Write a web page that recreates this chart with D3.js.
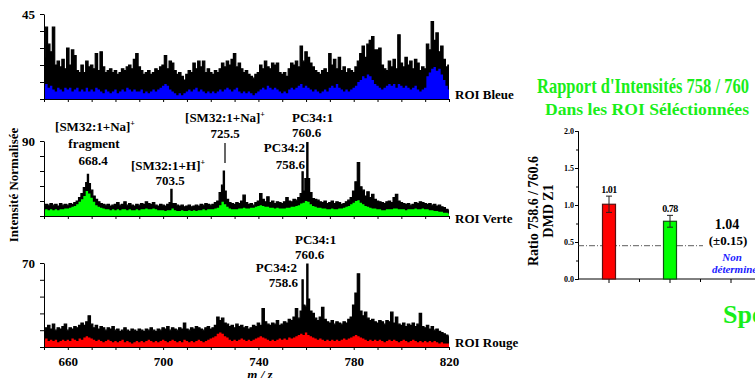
<!DOCTYPE html>
<html>
<head>
<meta charset="utf-8">
<script src="https://cdn.jsdelivr.net/npm/d3@7"></script>
<style>
  body { margin: 0; background: #fff; }
  svg text { font-family: "Liberation Serif", "Times New Roman", serif; font-weight: bold; }
</style>
</head>
<body>
<svg id="chart" width="755" height="378"></svg>
<script>
// spectra: one value per m/z unit from 650 to 820
const mzStart = 650;
const mzTicks = [660, 700, 740, 780, 820];

const blueTop = [
  22, 38, 29, 25, 38, 18, 20, 17, 21, 16,
  27, 18, 26, 23, 15, 14, 18, 14, 20, 17,
  18, 16, 24, 15, 25, 17, 14, 15, 16, 14,
  15, 13, 14, 16, 15, 17, 18, 16, 21, 24,
  17, 15, 13, 14, 15, 13, 14, 16, 15, 17,
  18, 23, 16, 20, 19, 15, 13, 14, 12, 10,
  13, 15, 14, 19, 16, 20, 17, 20, 14, 16,
  14, 13, 15, 14, 16, 19, 17, 20, 18, 21,
  24, 17, 19, 16, 14, 15, 13, 12, 11, 13,
  14, 18, 16, 20, 17, 16, 19, 18, 19, 14,
  13, 14, 12, 16, 19, 18, 20, 17, 28, 20,
  25, 22, 19, 17, 15, 14, 13, 15, 16, 14,
  24, 18, 21, 16, 22, 15, 17, 14, 16, 15,
  14, 17, 20, 24, 28, 22, 29, 31, 33, 26,
  26, 27, 18, 16, 15, 20, 17, 21, 16, 34,
  19, 17, 22, 18, 20, 16, 21, 19, 15, 17,
  16, 29, 26, 41, 31, 35, 25, 28, 21, 17, 18
];
const blueFill = [
  7, 8, 6, 7, 5, 4, 6, 5, 4, 6,
  5, 6, 4, 5, 6, 4, 5, 4, 6, 4,
  5, 4, 6, 5, 4, 3, 5, 4, 3, 4,
  5, 3, 4, 5, 4, 6, 5, 4, 5, 4,
  4, 5, 3, 4, 3, 4, 5, 4, 5, 6,
  7, 8, 7, 5, 4, 3, 2, 3, 2, 3,
  4, 5, 4, 5, 6, 4, 5, 4, 3, 4,
  3, 4, 3, 4, 5, 4, 5, 6, 5, 4,
  5, 6, 4, 3, 4, 3, 4, 3, 2, 3,
  4, 5, 6, 5, 7, 6, 5, 6, 5, 4,
  3, 4, 3, 5, 6, 5, 6, 7, 8, 6,
  7, 6, 5, 4, 5, 4, 3, 4, 5, 4,
  6, 7, 6, 8, 6, 5, 4, 5, 4, 5,
  6, 7, 9, 10, 12, 11, 13, 12, 10, 8,
  7, 6, 5, 6, 7, 8, 7, 8, 6, 8,
  7, 6, 7, 6, 5, 6, 7, 5, 4, 5,
  6, 12, 14, 16, 17, 15, 16, 13, 10, 7, 5
];

const greenTop = [
  12, 14, 13, 15, 13, 14, 12, 15, 13, 14,
  13, 15, 14, 16, 18, 22, 27, 34, 40, 39,
  31, 24, 20, 17, 15, 14, 13, 14, 12, 13,
  14, 16, 13, 14, 17, 13, 15, 13, 12, 14,
  13, 15, 14, 17, 15, 14, 16, 13, 12, 14,
  13, 12, 14, 16, 15, 15, 13, 12, 13, 11,
  12, 13, 11, 12, 13, 12, 14, 13, 15, 14,
  13, 14, 16, 18, 28, 37, 30, 20, 16, 15,
  14, 16, 15, 18, 25, 16, 14, 15, 13, 16,
  18, 27, 20, 17, 23, 16, 18, 15, 17, 16,
  15, 17, 22, 18, 17, 20, 19, 22, 27, 30,
  45, 45, 28, 21, 20, 19, 17, 16, 18, 15,
  16, 18, 15, 17, 16, 14, 15, 17, 19, 22,
  30, 41, 64, 35, 31, 24, 29, 22, 26, 20,
  18, 17, 16, 15, 17, 18, 16, 22, 26, 18,
  16, 15, 14, 15, 13, 14, 16, 15, 17, 16,
  15, 14, 15, 13, 14, 12, 13, 11, 10, 8, 7
];
const greenFill = [
  7, 8, 7, 8, 7, 8, 7, 8, 8, 9,
  9, 10, 11, 12, 14, 17, 20, 24, 30, 27,
  22, 17, 13, 11, 10, 9, 8, 8, 7, 8,
  7, 8, 7, 8, 8, 7, 8, 7, 7, 8,
  7, 8, 8, 9, 8, 8, 9, 8, 7, 7,
  7, 6, 7, 7, 9, 7, 6, 6, 7, 6,
  6, 7, 6, 7, 6, 7, 7, 8, 7, 8,
  8, 8, 9, 10, 13, 17, 14, 11, 9, 8,
  8, 8, 9, 9, 10, 9, 9, 10, 10, 11,
  12, 13, 12, 11, 11, 10, 10, 9, 10, 9,
  9, 9, 10, 10, 11, 11, 12, 13, 15, 16,
  18, 17, 14, 12, 11, 10, 10, 9, 9, 8,
  8, 9, 8, 8, 9, 9, 10, 11, 12, 14,
  16, 18, 19, 16, 14, 12, 11, 10, 9, 9,
  8, 8, 7, 7, 8, 8, 8, 9, 9, 8,
  8, 8, 7, 8, 8, 8, 9, 8, 8, 9,
  8, 8, 7, 7, 6, 6, 5, 5, 4, 4, 3
];
const greenPeaks = [[668.4, 50], [703.5, 32], [725.5, 54], [758.6, 53], [760.6, 88]];

const redTop = [
  14, 16, 18, 15, 19, 14, 16, 15, 17, 19,
  14, 16, 15, 17, 16, 18, 20, 18, 21, 26,
  19, 16, 18, 15, 17, 16, 14, 16, 15, 17,
  14, 15, 13, 14, 16, 14, 13, 15, 14, 13,
  15, 14, 13, 15, 14, 16, 14, 13, 15, 14,
  16, 15, 17, 14, 16, 15, 14, 16, 15, 20,
  15, 14, 16, 15, 17, 16, 15, 14, 16, 17,
  15, 16, 18, 25, 22, 24, 20, 19, 17, 18,
  16, 19, 17, 18, 16, 17, 15, 16, 18, 17,
  20, 18, 32, 21, 19, 18, 20, 19, 22, 18,
  19, 21, 20, 23, 22, 25, 32, 24, 30, 35,
  34, 40, 30, 28, 24, 22, 25, 33, 23, 21,
  20, 22, 19, 21, 20, 19, 21, 20, 23, 25,
  35, 45, 61, 30, 26, 29, 24, 22, 23, 21,
  20, 22, 21, 19, 22, 21, 29, 20, 25, 19,
  18, 20, 17, 19, 18, 20, 17, 19, 28, 17,
  16, 18, 15, 17, 14, 15, 13, 12, 11, 10, 9
];
const redFill = [
  6, 7, 5, 6, 5, 6, 4, 5, 6, 5,
  6, 5, 7, 6, 5, 7, 6, 8, 9, 8,
  7, 6, 5, 6, 5, 4, 5, 6, 5, 4,
  5, 4, 5, 6, 4, 5, 4, 3, 4, 5,
  4, 5, 4, 5, 6, 5, 4, 5, 4, 5,
  6, 5, 4, 5, 6, 5, 4, 5, 4, 6,
  5, 4, 5, 4, 5, 6, 5, 4, 5, 6,
  7, 8, 9, 11, 12, 11, 9, 8, 6, 5,
  6, 5, 6, 7, 6, 5, 6, 5, 6, 7,
  8, 9, 8, 7, 6, 5, 6, 5, 6, 7,
  6, 7, 6, 8, 7, 8, 9, 10, 11, 10,
  12, 10, 9, 8, 7, 6, 7, 6, 5, 6,
  5, 6, 5, 6, 5, 6, 7, 6, 7, 8,
  9, 10, 9, 8, 7, 6, 5, 6, 5, 6,
  5, 6, 5, 4, 5, 6, 5, 6, 5, 4,
  5, 6, 5, 4, 5, 6, 5, 4, 5, 4,
  5, 4, 5, 4, 5, 4, 3, 4, 3, 3, 3
];
const redPeaks = [[758.6, 56], [760.6, 69]];

// ratio bar chart
const ratioCats = ["ROI Rouge", "ROI Verte", "ROI Bleue"];
const ratioVals = [1.01, 0.78];
const ratioErr = [0.11, 0.08];
const ratioColors = ["#ff0000", "#00ff00"];
const ratioBorders = ["#5a1010", "#145014"];
const ratioTicks = [0, 0.5, 1.0, 1.5, 2.0];
const ratioRef = 0.45;

const svg = d3.select("#chart");
const x = d3.scaleLinear().domain([650, 820]).range([44, 449]);

function toSeries(arr, peaks) {
  let pts = arr.map((v, i) => [mzStart + i, v]);
  if (peaks) pts = pts.concat(peaks).sort((a, b) => a[0] - b[0]);
  return pts;
}

let panels = [
  { top: blueTop, fill: blueFill, peaks: null, max: 45, y0: 99, y1: 14, color: "#0000ff", name: "ROI Bleue", ny: 99 },
  { top: greenTop, fill: greenFill, peaks: greenPeaks, max: 90, y0: 216, y1: 141, color: "#00ff00", name: "ROI Verte", ny: 223 },
  { top: redTop, fill: redFill, peaks: redPeaks, max: 70, y0: 347, y1: 263, color: "#ff0000", name: "ROI Rouge", ny: 347 }
];

panels.forEach(function(p, k) {
  let y = d3.scaleLinear().domain([0, p.max]).range([p.y0, p.y1]);
  let g = svg.append("g");

  let area = d3.area().curve(d3.curveStep).x(d => x(d[0])).y0(y(0)).y1(d => y(d[1]));
  let line = d3.line().curve(d3.curveStep).x(d => x(d[0])).y(d => y(d[1]));
  let topData = toSeries(p.top, p.peaks);

  g.append("path").datum(topData).attr("d", area).attr("fill", "#000");
  g.append("path").datum(topData).attr("d", line)
    .attr("fill", "none").attr("stroke", "#000").attr("stroke-width", 1.2);
  g.append("path").datum(toSeries(p.fill)).attr("d", area).attr("fill", p.color);

  // YAxis
  let yAxis = d3.axisLeft(y)
    .tickValues(d3.range(0, 6).map(i => i * p.max / 5))
    .tickSize(4).tickPadding(5).tickSizeOuter(0)
    .tickFormat(d => d === p.max ? d : "");
  g.append("g").attr("transform", "translate(44,0)").call(yAxis)
    .call(a => a.selectAll("text").attr("font-size", 13).attr("fill", "#000"));

  // XAxis
  let xAxis = d3.axisBottom(x).tickValues(d3.range(650, 821, 10))
    .tickSize(3).tickPadding(7).tickSizeOuter(0)
    .tickFormat(d => (k === 2 && mzTicks.includes(d)) ? d : "");
  g.append("g").attr("transform", "translate(0," + p.y0 + ")").call(xAxis)
    .call(a => a.selectAll("text").attr("font-size", 13).attr("fill", "#000"));

  g.append("text").attr("x", 455).attr("y", p.ny).attr("font-size", 13).text(p.name);
});

svg.selectAll(".domain, .tick line").attr("stroke", "#000");

svg.append("text").attr("x", 260).attr("y", 379).attr("text-anchor", "middle")
  .attr("font-size", 13).attr("font-style", "italic").text("m / z");

svg.append("text").attr("transform", "translate(18,185) rotate(-90)")
  .attr("text-anchor", "middle").attr("font-size", 13).text("Intensité Normalisée");

// peak annotations
function label(xp, yp, txt, anchor, sup) {
  let t = svg.append("text").attr("x", xp).attr("y", yp).attr("font-size", 13)
    .attr("text-anchor", anchor || "middle").text(txt);
  if (sup) t.append("tspan").attr("dy", -5).attr("font-size", 8).text("+");
  return t;
}
label(95, 131, "[SM32:1+Na]", "middle", true);
label(94, 148, "fragment");
label(93, 165, "668.4");
label(168, 170, "[SM32:1+H]", "middle", true);
label(170, 185, "703.5");
label(225, 122, "[SM32:1+Na]", "middle", true);
label(225, 138, "725.5");
svg.append("line").attr("x1", 225).attr("x2", 225).attr("y1", 143).attr("y2", 163)
  .attr("stroke", "#000").attr("stroke-width", 1.2);
label(292, 122, "PC34:1", "start");
label(292, 137, "760.6", "start");
label(305, 152, "PC34:2", "end");
label(305, 169, "758.6", "end");
label(295, 244, "PC34:1", "start");
label(295, 259, "760.6", "start");
label(297, 272, "PC34:2", "end");
label(298, 287, "758.6", "end");

// Ratio chart
let yR = d3.scaleLinear().domain([0, 2]).range([279, 131]);
let xR = d3.scalePoint().domain(ratioCats).range([609, 731]);
let rg = svg.append("g");

rg.append("text").attr("x", 537).attr("y", 93).attr("font-size", 21)
  .attr("textLength", 212).attr("lengthAdjust", "spacingAndGlyphs")
  .attr("fill", "#19ee19").text("Rapport d'Intensités 758 / 760");
rg.append("text").attr("x", 545).attr("y", 115).attr("font-size", 17)
  .attr("textLength", 204).attr("lengthAdjust", "spacingAndGlyphs")
  .attr("fill", "#19ee19").text("Dans les ROI Séléctionnées");

rg.append("g").attr("transform", "translate(578,0)")
  .call(d3.axisLeft(yR).tickValues(d3.range(0, 2.01, 0.25)).tickSize(2).tickFormat(""));
rg.append("g").attr("transform", "translate(578,0)")
  .call(d3.axisLeft(yR).tickValues(ratioTicks).tickSize(3).tickPadding(1).tickSizeOuter(0)
    .tickFormat(d3.format(".1f")))
  .call(a => a.selectAll("text").attr("font-size", 8));

rg.append("line").attr("x1", 578).attr("x2", 755).attr("y1", yR(0)).attr("y2", yR(0))
  .attr("stroke", "#000");
let midTicks = [0, 1].map(i => (xR(ratioCats[i]) + xR(ratioCats[i + 1])) / 2);
rg.selectAll(".tk").data(ratioCats.map(c => xR(c)).concat(midTicks)).enter().append("line")
  .attr("x1", d => d).attr("x2", d => d).attr("y1", yR(0)).attr("y2", (d, i) => yR(0) + (i < 3 ? 4 : 3))
  .attr("stroke", "#000");

rg.append("line").attr("x1", 578).attr("x2", 703).attr("y1", yR(ratioRef)).attr("y2", yR(ratioRef))
  .attr("stroke", "#333").attr("stroke-width", 0.8).attr("stroke-dasharray", "6,2,1,2");

rg.selectAll(".bar").data(ratioVals).enter().append("rect")
  .attr("x", (d, i) => xR(ratioCats[i]) - 6.5).attr("width", 13)
  .attr("y", d => yR(d)).attr("height", d => yR(0) - yR(d))
  .attr("fill", (d, i) => ratioColors[i]).attr("stroke", (d, i) => ratioBorders[i]).attr("stroke-width", 1.2);

ratioVals.forEach(function(v, i) {
  let cx = xR(ratioCats[i]);
  let e = ratioErr[i];
  rg.append("line").attr("x1", cx).attr("x2", cx).attr("y1", yR(v - e)).attr("y2", yR(v + e)).attr("stroke", "#222");
  [v - e, v + e].forEach(w => rg.append("line").attr("x1", cx - 3).attr("x2", cx + 3)
    .attr("y1", yR(w)).attr("y2", yR(w)).attr("stroke", "#222"));
  rg.append("text").attr("x", cx).attr("y", yR(v + e) - 3).attr("text-anchor", "middle")
    .attr("font-size", 10).attr("letter-spacing", -0.5).text(d3.format(".2f")(v));
});

let c3 = xR(ratioCats[2]);
rg.append("text").attr("x", c3 - 4).attr("y", 229).attr("text-anchor", "middle").attr("font-size", 14).text("1.04");
rg.append("text").attr("x", c3 - 3).attr("y", 245).attr("text-anchor", "middle").attr("font-size", 13).text("(±0.15)");
rg.append("text").attr("x", c3 + 1).attr("y", 261).attr("text-anchor", "middle").attr("font-size", 11)
  .attr("font-style", "italic").attr("fill", "#1a1aff").text("Non");
rg.append("text").attr("x", c3 - 19).attr("y", 273).attr("font-size", 11)
  .attr("font-style", "italic").attr("fill", "#1a1aff").text("déterminé");

rg.append("text").attr("transform", "translate(538,211) rotate(-90)").attr("text-anchor", "middle")
  .attr("font-size", 14).text("Ratio 758.6 / 760.6");
rg.append("text").attr("transform", "translate(553,211) rotate(-90)").attr("text-anchor", "middle")
  .attr("font-size", 14).text("DMD Z1");

rg.append("text").attr("x", 723).attr("y", 323).attr("font-size", 26).attr("fill", "#19ee19").text("Spectres");
</script>
</body>
</html>
